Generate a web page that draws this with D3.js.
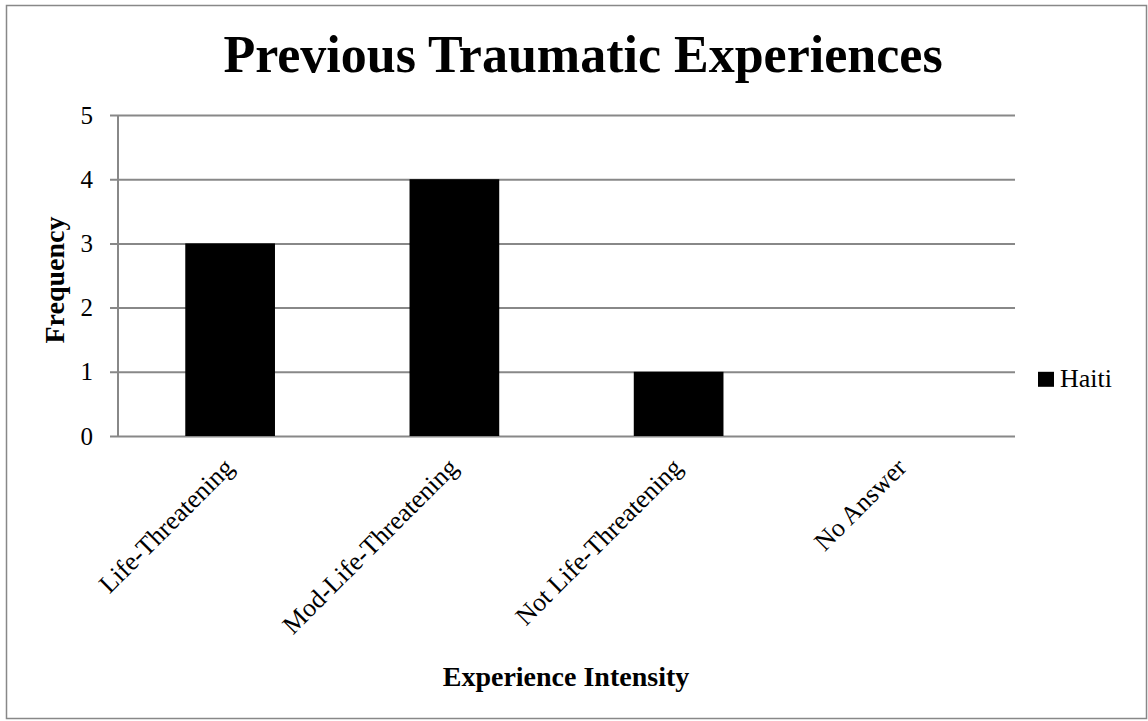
<!DOCTYPE html>
<html>
<head>
<meta charset="utf-8">
<script src="https://cdn.jsdelivr.net/npm/d3@7"></script>
<style>
  body { margin: 0; background: #fff; }
  text { font-family: "Liberation Serif", "DejaVu Serif", serif; fill: #000; }
</style>
</head>
<body>
<div id="chart"></div>
<script>
// Chart data
const categories = ['Life-Threatening', 'Mod-Life-Threatening', 'Not Life-Threatening', 'No Answer'];
const haitiValues = [3, 4, 1, 0];
const yTicks = [0, 1, 2, 3, 4, 5];
const seriesName = 'Haiti';

const W = 1148, H = 721;
const margin = { top: 115, right: 133, bottom: 285, left: 118 };
const width = W - margin.left - margin.right;
const height = H - margin.top - margin.bottom;

const svg = d3.select('#chart')
  .append('svg')
  .attr('width', W)
  .attr('height', H);

// Outer frame
svg.append('rect')
  .attr('x', 6.5).attr('y', 5.5)
  .attr('width', 1140).attr('height', 713)
  .attr('fill', 'none')
  .attr('stroke', '#888')
  .attr('stroke-width', 1.5);

const g = svg.append('g')
  .attr('transform', `translate(${margin.left},${margin.top})`);

const x = d3.scaleBand()
  .domain(categories)
  .range([0, width])
  .paddingInner(0.6)
  .paddingOuter(0.3);

const y = d3.scaleLinear()
  .domain([0, 5])
  .range([height, 0]);

// Title
svg.append('text')
  .attr('x', 583)
  .attr('y', 72)
  .attr('text-anchor', 'middle')
  .style('font-size', '52px')
  .style('font-weight', 'bold')
  .text('Previous Traumatic Experiences');

// Gridlines + y ticks
const yAxis = g.append('g')
  .call(d3.axisLeft(y).tickValues(yTicks).tickSize(-width).tickPadding(25).tickFormat(d3.format('d')));
yAxis.select('.domain').remove();
yAxis.selectAll('.tick line')
  .attr('stroke', '#888')
  .attr('stroke-width', 2)
  .attr('x1', -8);
yAxis.selectAll('.tick text')
  .style('font-size', '25px')
  .attr('font-family', null);

// Y axis line
g.append('line')
  .attr('x1', 0).attr('x2', 0)
  .attr('y1', 0).attr('y2', height)
  .attr('stroke', '#888')
  .attr('stroke-width', 2);

// Bars
g.selectAll('.bar')
  .data(haitiValues)
  .enter()
  .append('rect')
  .attr('class', 'bar')
  .attr('x', (d, i) => x(categories[i]))
  .attr('y', d => y(d))
  .attr('width', x.bandwidth())
  .attr('height', d => height - y(d))
  .attr('fill', '#000');

// X axis labels (rotated)
const xAxis = g.append('g')
  .attr('transform', `translate(0,${height})`)
  .call(d3.axisBottom(x).tickSize(0).tickPadding(0));
xAxis.select('.domain').remove();
xAxis.selectAll('.tick text')
  .style('font-size', '26px')
  .attr('font-family', null)
  .attr('text-anchor', 'end')
  .attr('dy', null)
  .attr('y', 0)
  .attr('transform', 'translate(5,33) rotate(-45)');

// Axis titles
svg.append('text')
  .attr('transform', `translate(64,280) rotate(-90)`)
  .attr('text-anchor', 'middle')
  .style('font-size', '28px')
  .style('font-weight', 'bold')
  .text('Frequency');

svg.append('text')
  .attr('x', 566)
  .attr('y', 686)
  .attr('text-anchor', 'middle')
  .style('font-size', '28px')
  .style('font-weight', 'bold')
  .text('Experience Intensity');

// Legend
const legend = svg.append('g')
  .attr('transform', `translate(1038, ${margin.top + y(1)})`);
legend.append('rect')
  .attr('width', 16).attr('height', 15)
  .attr('fill', '#000');
legend.append('text')
  .attr('x', 22)
  .attr('y', 15)
  .style('font-size', '26px')
  .text(seriesName);
</script>
</body>
</html>
